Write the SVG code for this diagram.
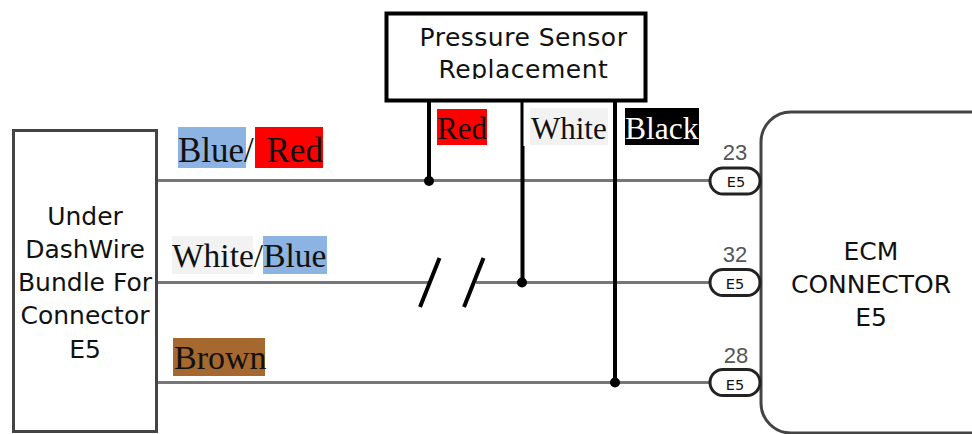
<svg xmlns="http://www.w3.org/2000/svg" width="972" height="434" viewBox="0 0 972 434">
<style>
.s{font-family:"DejaVu Sans",sans-serif;fill:#111;text-anchor:middle}
.l{font-size:25px}
.h{font-size:25px;letter-spacing:.5px}
.p{font-size:14.500px}
.n{font-family:"Liberation Sans",Arial,sans-serif;font-size:22px;fill:#555;text-anchor:middle}
.t{font-family:"Liberation Serif","Times New Roman",serif;fill:#111}
.w{stroke:#777;stroke-width:3;fill:none}
.b{stroke:#000;stroke-width:4;fill:none}
.pill{fill:#fff;stroke:#222;stroke-width:3}
</style>
<defs><clipPath id="c"><rect x="390" y="17" width="252" height="62"/></clipPath></defs>
<rect width="972" height="434" fill="#fff"/>
<g id="connectors">
<path class="w" d="M157 180.500H710"/>
<path class="w" d="M157 282.500H431M476 282.500H710"/>
<path class="w" d="M157 382.500H710"/>
<path class="b" d="M429 101V181"/>
<path d="M522 101V146" stroke="#000" stroke-width="3" fill="none"/>
<path class="b" d="M522.500 146V282"/>
<path class="b" d="M615 101V382"/>
<circle cx="429" cy="181" r="5"/>
<circle cx="522" cy="282.500" r="5"/>
<circle cx="615" cy="382.500" r="5"/>
<path class="b" d="M439.500 258L420 307M483.500 258L464 307"/>
</g>
<g id="sensor">
<rect x="386.500" y="13.500" width="259" height="87" fill="#fff" stroke="#000" stroke-width="4"/>
<g clip-path="url(#c)">
<text class="s h" x="523.500" y="46">Pressure Sensor</text>
<text class="s h" x="523.500" y="78">Replacement</text>
</g>
</g>
<g id="bundle">
<rect x="13.500" y="130.500" width="143" height="301" fill="#fff" stroke="#444" stroke-width="3"/>
<text class="s l" x="85" y="225">Under</text>
<text class="s l" x="85" y="258">DashWire</text>
<text class="s l" x="85" y="291">Bundle For</text>
<text class="s l" x="85" y="324">Connector</text>
<text class="s l" x="85" y="358">E5</text>
</g>
<g id="ecm">
<rect x="761" y="112" width="240" height="321" rx="30" fill="#fff" stroke="#444" stroke-width="3"/>
<text class="s l" x="871" y="260">ECM</text>
<text class="s l" x="871" y="293">CONNECTOR</text>
<text class="s l" x="871" y="326">E5</text>
</g>
<g id="pin23"><rect class="pill" x="710" y="168" width="50" height="26" rx="13"/><text class="s p" x="736" y="187">E5</text><text class="n" x="735" y="160">23</text></g>
<g id="pin32"><rect class="pill" x="710" y="269.500" width="50" height="26" rx="13"/><text class="s p" x="735" y="288.500">E5</text><text class="n" x="735" y="262">32</text></g>
<g id="pin28"><rect class="pill" x="710" y="369.500" width="50" height="26" rx="13"/><text class="s p" x="735" y="390">E5</text><text class="n" x="736" y="363">28</text></g>
<g id="label-blue-red">
<rect x="178" y="127" width="68" height="41" fill="#8db3e2"/>
<rect x="255" y="127" width="68" height="41" fill="#f00"/>
<text class="t" x="178" y="162" font-size="35">Blue/</text>
<text class="t" x="266.500" y="162" font-size="35">Red</text>
</g>
<g id="label-white-blue">
<rect x="172" y="236" width="81" height="38" fill="#f2f2f2"/>
<rect x="263" y="236" width="64" height="38" fill="#8db3e2"/>
<text class="t" x="172" y="267" font-size="33.500">White/Blue</text>
</g>
<g id="label-brown">
<rect x="173" y="338" width="92" height="38" fill="#a5682f"/>
<text class="t" x="174" y="369" font-size="34">Brown</text>
</g>
<g id="label-red">
<rect x="437" y="109" width="50" height="36" fill="#f00"/>
<text class="t" x="437" y="139" font-size="31">Red</text>
</g>
<g id="label-white">
<rect x="530" y="108" width="78" height="37" fill="#f2f2f2"/>
<text class="t" x="531" y="139" font-size="31">White</text>
</g>
<g id="label-black">
<rect x="625" y="108" width="74" height="37" fill="#000"/>
<text class="t" x="625" y="139" font-size="31.500" style="fill:#fff">Black</text>
</g>
</svg>
